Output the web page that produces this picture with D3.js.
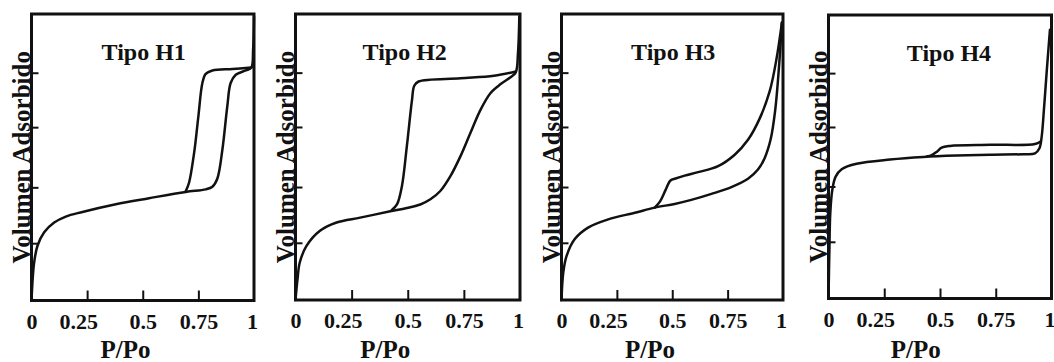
<!DOCTYPE html>
<html>
<head>
<meta charset="utf-8">
<script src="https://cdn.jsdelivr.net/npm/d3@7"></script>
<style>
  html, body { margin: 0; padding: 0; background: #fff; }
  svg { display: block; }
  svg text { font-family: "Liberation Serif", "DejaVu Serif", "Times New Roman", Times, serif !important; font-weight: bold; fill: #111; }
</style>
</head>
<body>
<svg id="chart" width="1054" height="362"></svg>
<script>
// ---------- data ----------
const titles = ["Tipo H1", "Tipo H2", "Tipo H3", "Tipo H4"];
const xTicks = [0, 0.25, 0.5, 0.75, 1];
const xTickLabels = ["0", "0.25", "0.5", "0.75", "1"];
const yTicks = [0.2, 0.395, 0.605, 0.795];
const xLabel = "P/Po";
const yLabel = "Volumen Adsorbido";

// adsorption (lower) and desorption (upper) branches, [P/Po, relative volume]
const h1Ads = [[0,0],[0.012,0.133],[0.027,0.191],[0.057,0.238],[0.102,0.272],[0.154,0.293],[0.229,0.309],
  [0.379,0.336],[0.528,0.357],[0.693,0.379],[0.783,0.388],[0.813,0.397],[0.835,0.425],[0.858,0.527],
  [0.880,0.678],[0.895,0.759],[0.918,0.788],[0.963,0.803],[0.988,0.813],[0.996,0.875],[1.0,0.99]];
const h1Des = [[0.988,0.813],[0.903,0.808],[0.813,0.803],[0.783,0.791],[0.768,0.759],[0.750,0.643],
  [0.731,0.516],[0.708,0.411],[0.693,0.381]];

const h2Ads = [[0,0],[0.009,0.073],[0.019,0.131],[0.049,0.189],[0.109,0.242],[0.183,0.271],[0.288,0.288],
  [0.422,0.310],[0.496,0.322],[0.556,0.334],[0.601,0.352],[0.645,0.381],[0.690,0.433],[0.735,0.503],
  [0.779,0.584],[0.824,0.665],[0.869,0.724],[0.914,0.755],[0.958,0.779],[0.981,0.796],[0.991,0.863],[0.997,0.991]];
const h2Des = [[0.981,0.799],[0.884,0.784],[0.735,0.775],[0.548,0.764],[0.529,0.749],[0.519,0.700],
  [0.496,0.538],[0.474,0.398],[0.452,0.334],[0.429,0.315]];

const h3Ads = [[0,0],[0.008,0.096],[0.023,0.154],[0.060,0.213],[0.120,0.253],[0.211,0.282],[0.331,0.305],
  [0.421,0.323],[0.511,0.336],[0.586,0.350],[0.677,0.371],[0.767,0.395],[0.842,0.424],[0.887,0.456],
  [0.917,0.496],[0.944,0.561],[0.965,0.665],[0.982,0.816],[0.995,0.97]];
const h3Des = [[0.995,0.97],[0.970,0.840],[0.940,0.730],[0.895,0.635],[0.842,0.560],[0.782,0.508],
  [0.707,0.468],[0.617,0.447],[0.556,0.435],[0.515,0.425],[0.492,0.418],[0.470,0.385],[0.445,0.345],[0.421,0.323]];

const h4Ads = [[0,0],[0.004,0.171],[0.008,0.301],[0.017,0.383],[0.032,0.430],[0.059,0.456],[0.126,0.475],
  [0.276,0.490],[0.425,0.499],[0.575,0.504],[0.725,0.507],[0.874,0.509],[0.926,0.512],[0.946,0.530],
  [0.956,0.571],[0.967,0.677],[0.978,0.795],[0.993,0.948]];
const h4Des = [[0.951,0.554],[0.926,0.545],[0.725,0.542],[0.545,0.538],[0.507,0.532],[0.486,0.518],
  [0.463,0.506],[0.441,0.501]];

const adsorption = [h1Ads, h2Ads, h3Ads, h4Ads];
const desorption = [h1Des, h2Des, h3Des, h4Des];

// ---------- layout ----------
const frames = [
  {left: 31.5, right: 254, top: 14, bottom: 300.5, titleDx: 1, xLabelDx: 5},
  {left: 295.5, right: 520, top: 14, bottom: 300, titleDx: -3, xLabelDx: 0},
  {left: 561.5, right: 783, top: 14, bottom: 300, titleDx: 1, xLabelDx: 0},
  {left: 828.5, right: 1051.5, top: 15, bottom: 298.5, titleDx: 9, xLabelDx: -2}
];

const svg = d3.select("#chart");
const ink = "#111";
const serif = '"Liberation Serif", "DejaVu Serif", "Times New Roman", Times, serif';

frames.forEach((f, i) => {
  const x = d3.scaleLinear().domain([0, 1]).range([f.left, f.right]);
  const y = d3.scaleLinear().domain([0, 1]).range([f.bottom, f.top]);
  const g = svg.append("g").attr("font-family", serif);

  // curves
  const line = d3.line().x(d => x(d[0])).y(d => y(d[1])).curve(d3.curveCatmullRom.alpha(0.5));
  [adsorption[i], desorption[i]].forEach(branch => {
    g.append("path").attr("d", line(branch)).attr("fill", "none")
      .attr("stroke", ink).attr("stroke-width", 2.5).attr("stroke-linejoin", "round").attr("stroke-linecap", "round");
  });

  // x axis (inward ticks)
  const xa = g.append("g").attr("transform", `translate(0,${f.bottom})`)
    .call(d3.axisBottom(x).tickValues(xTicks).tickSizeInner(-10).tickSizeOuter(0)
      .tickFormat((d, k) => xTickLabels[k]));
  xa.attr("font-family", serif);
  xa.select(".domain").remove();
  xa.selectAll(".tick line").attr("stroke", ink).attr("stroke-width", 2)
    .filter(d => d === 0 || d === 1).remove();
  xa.selectAll(".tick text").attr("y", 28).attr("dy", null)
    .attr("dx", d => d === 0.25 ? -9 : (d === 1 ? -2 : 0))
    .style("font-size", "22px").style("font-family", serif).attr("fill", ink);

  // y axis (inward ticks, no labels)
  const ya = g.append("g").attr("transform", `translate(${f.left},0)`)
    .call(d3.axisLeft(y).tickValues(yTicks).tickSizeInner(-7).tickSizeOuter(0).tickFormat(""));
  ya.select(".domain").remove();
  ya.selectAll(".tick line").attr("stroke", ink).attr("stroke-width", 2);

  // frame
  g.append("rect").attr("x", f.left).attr("y", f.top)
    .attr("width", f.right - f.left).attr("height", f.bottom - f.top)
    .attr("fill", "none").attr("stroke", ink).attr("stroke-width", 3);

  // title
  g.append("text").attr("x", x(0.5) + f.titleDx).attr("y", f.top + 46)
    .attr("text-anchor", "middle").style("font-size", "24px").style("font-family", serif).text(titles[i]);

  // x label
  g.append("text").attr("x", x(0.4) + f.xLabelDx).attr("y", 358)
    .attr("text-anchor", "middle").style("font-size", "25px").style("font-family", serif).text(xLabel);

  // y label
  g.append("text").attr("transform", `translate(${f.left - 2},${(f.top + f.bottom) / 2}) rotate(-90)`)
    .attr("text-anchor", "middle").style("font-size", "25px").style("font-family", serif).text(yLabel);
});
</script>
</body>
</html>
